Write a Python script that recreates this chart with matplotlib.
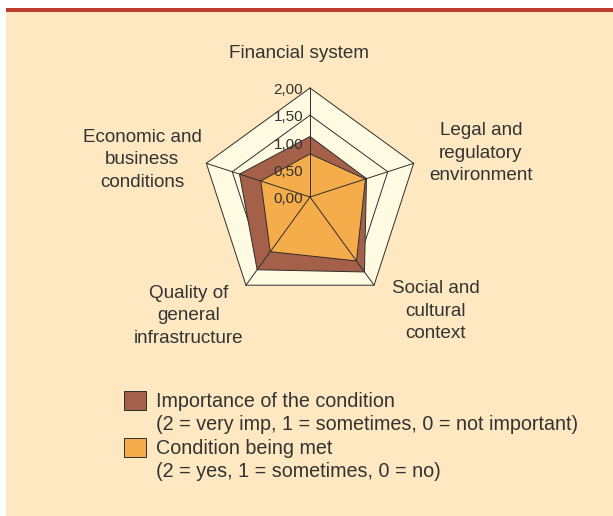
import numpy as np
import matplotlib
matplotlib.use("Agg")
import matplotlib.pyplot as plt
from matplotlib.patches import Rectangle, Patch

plt.rcParams['font.family'] = ['Liberation Sans', 'DejaVu Sans']

# data
categories = ["Financial system", "Legal and\nregulatory\nenvironment",
              "Social and\ncultural\ncontext", "Quality of\ngeneral\ninfrastructure",
              "Economic and\nbusiness\nconditions"]
importance = [1.11, 1.09, 1.70, 1.65, 1.36]
being_met = [0.79, 1.07, 1.45, 1.24, 0.95]
rings = [0.5, 1.0, 1.5, 2.0]
tick_values = [0.0, 0.5, 1.0, 1.5, 2.0]
legend_labels = ["Importance of the condition",
                 "(2 = very imp, 1 = sometimes, 0 = not important)",
                 "Condition being met",
                 "(2 = yes, 1 = sometimes, 0 = no)"]

bg = '#FEE8C1'
cream = '#FFFBE2'
brown = '#A5604A'
orange = '#F5AC4A'
red = '#BE3E2E'
dark = '#2E2E2E'
txt = '#333333'

W, H = 613, 516
fig = plt.figure(figsize=(W / 100, H / 100), dpi=100)
fig.patch.set_facecolor('white')

# beige panel with red strip on top
fig.add_artist(Rectangle((6 / W, 0), 1 - 6 / W, 1 - 12 / H, transform=fig.transFigure,
                         facecolor=bg, edgecolor='none', zorder=0))
fig.add_artist(Rectangle((6 / W, 1 - 12 / H), 1 - 6 / W, 4 / H, transform=fig.transFigure,
                         facecolor=red, edgecolor='none', zorder=0))

# radar axes: centre at (310, 197) px, radius 2.0 -> 109 px
cx, cy, R = 310, 197, 109
ax = fig.add_axes([(cx - R) / W, (H - cy - R) / H, 2 * R / W, 2 * R / H], projection='polar')
ax.set_theta_offset(np.pi / 2)
ax.set_theta_direction(-1)
ax.set_ylim(0, 2)
ax.set_xticks([])
ax.set_yticks([])
ax.grid(False)
ax.spines['polar'].set_visible(False)
ax.patch.set_visible(False)

n = len(categories)
angles = np.linspace(0, 2 * np.pi, n, endpoint=False)
closed = np.append(angles, angles[0])

ax.fill(angles, [rings[-1]] * n, facecolor=cream, edgecolor='none', zorder=1, clip_on=False)
for r in rings:
    ax.plot(closed, [r] * (n + 1), color=dark, lw=0.7, zorder=2, clip_on=False)

ax.fill(angles, importance, facecolor=brown, edgecolor=dark, lw=0.7, zorder=3)
ax.fill(angles, being_met, facecolor=orange, edgecolor=dark, lw=0.7, zorder=4)

for a in angles:
    ax.plot([a, a], [0, rings[-1]], color=dark, lw=0.7, zorder=5, clip_on=False)

for v in tick_values:
    ax.annotate(f"{v:.2f}".replace('.', ','), xy=(0, v), xytext=(-5, -1.5),
                textcoords='offset points', ha='right', va='center',
                fontsize=11, color=txt, zorder=6, annotation_clip=False)

# category labels (centre positions in px)
label_pos = [(299, 54), (481, 153), (436, 311), (189, 316), (142, 160)]
for lab, (x, y) in zip(categories, label_pos):
    fig.text(x / W, 1 - y / H, lab, ha='center', va='center', fontsize=13.6,
             color=txt, linespacing=1.42)

# legend
handles = [Patch(facecolor=brown, edgecolor=dark, lw=0.7),
           Patch(facecolor='none', edgecolor='none'),
           Patch(facecolor=orange, edgecolor=dark, lw=0.7),
           Patch(facecolor='none', edgecolor='none')]
leg = fig.legend(handles, legend_labels, loc='upper left',
                 bbox_to_anchor=(124 / W, 1 - 391 / H), frameon=False,
                 fontsize=14.2, handlelength=1.1, handleheight=1.1,
                 handletextpad=0.5, labelspacing=0.16, borderpad=0, borderaxespad=0)
for t in leg.get_texts():
    t.set_color(txt)

fig.savefig('out.png', dpi=100)
